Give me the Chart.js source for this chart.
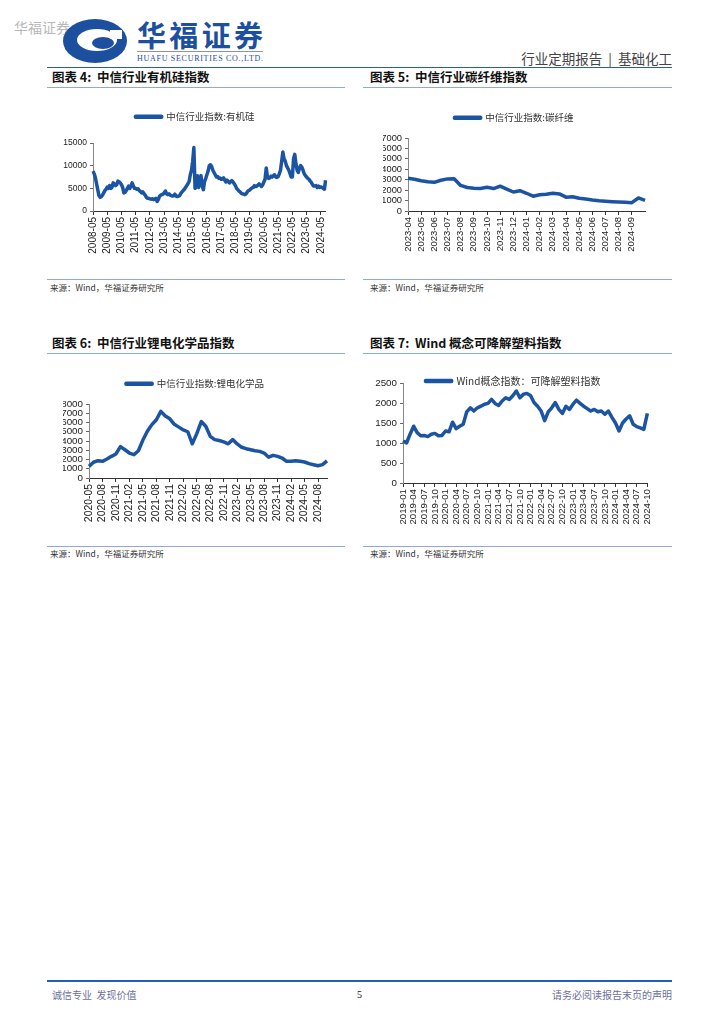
<!DOCTYPE html>
<html lang="zh-CN">
<head>
<meta charset="utf-8">
<script src="https://cdn.jsdelivr.net/npm/chart.js@4.4.0/dist/chart.umd.min.js"></script>
<style>
  body { margin: 0; background: #fff; }
  #page { position: relative; width: 724px; height: 1024px; overflow: hidden; font-family: "Noto Sans CJK SC", sans-serif; }
  .abs { position: absolute; white-space: pre; }
  .rule { position: absolute; height: 0; border-top: 1.5px solid #8eaadb; }
  .title { font-size: 12.5px; line-height: 16px; font-weight: 700; color: #111; }
  .src { font-size: 8.5px; line-height: 12px; color: #333; }
  canvas { position: absolute; }
</style>
</head>
<body>
<div id="page">
  <div class="abs" style="left:14px;top:18px;font-size:14px;line-height:18px;color:#b8b8b8;">华福证券</div>
  <svg class="abs" style="left:60px;top:16px;" width="215" height="52" viewBox="0 0 215 52">
    <ellipse cx="35" cy="25" rx="32" ry="22" fill="#1d4f9f"/>
    <ellipse cx="37" cy="24" rx="20" ry="11" fill="#fff"/>
    <ellipse cx="43" cy="27" rx="11" ry="6" fill="#1d4f9f"/>
    <rect x="50" y="14" width="12" height="9" fill="#fff"/>
    <text x="77" y="31" font-family="Noto Sans CJK SC" font-weight="700" font-size="29" fill="#1d4f9f" textLength="126">华福证券</text>
    <line x1="77" y1="35.5" x2="203" y2="35.5" stroke="#777" stroke-width="0.8"/>
    <text x="77" y="45" font-family="Liberation Serif" font-size="8" fill="#1d4f9f" textLength="126">HUAFU SECURITIES CO.,LTD.</text>
  </svg>
  <div class="abs" style="right:52px;top:49px;font-size:13.5px;line-height:18px;color:#444;">行业定期报告  |  基础化工</div>
  <div class="rule" style="left:47px;top:67px;width:625px;border-top:1.5px solid #2a5caa;"></div>

  <div class="abs title" style="left:52px;top:69px;">图表 4:  中信行业有机硅指数</div>
  <div class="rule" style="left:47px;top:87px;width:298px;"></div>
  <div class="abs title" style="left:370px;top:69px;">图表 5:  中信行业碳纤维指数</div>
  <div class="rule" style="left:363px;top:87px;width:309px;"></div>

  <canvas id="c4" width="280" height="161" style="left:55px;top:100px;"></canvas>
  <canvas id="c5" width="285" height="161" style="left:368px;top:100px;"></canvas>

  <div class="rule" style="left:47px;top:279px;width:298px;"></div>
  <div class="abs src" style="left:50px;top:281px;">来源：Wind，华福证券研究所</div>
  <div class="rule" style="left:363px;top:279px;width:309px;"></div>
  <div class="abs src" style="left:370px;top:281px;">来源：Wind，华福证券研究所</div>

  <div class="abs title" style="left:52px;top:335px;">图表 6:  中信行业锂电化学品指数</div>
  <div class="rule" style="left:47px;top:353px;width:298px;"></div>
  <div class="abs title" style="left:370px;top:335px;">图表 7:  Wind 概念可降解塑料指数</div>
  <div class="rule" style="left:363px;top:353px;width:309px;"></div>

  <canvas id="c6" width="280" height="166" style="left:55px;top:362px;"></canvas>
  <canvas id="c7" width="296" height="171" style="left:365px;top:362px;"></canvas>

  <div class="rule" style="left:47px;top:546px;width:298px;"></div>
  <div class="abs src" style="left:50px;top:547px;">来源：Wind，华福证券研究所</div>
  <div class="rule" style="left:363px;top:546px;width:309px;"></div>
  <div class="abs src" style="left:370px;top:547px;">来源：Wind，华福证券研究所</div>

  <div class="rule" style="left:47px;top:980px;width:625px;border-top:2px solid #1f5fbf;"></div>
  <div class="abs" style="left:52px;top:988px;font-size:10px;line-height:14px;color:#6b7099;">诚信专业  发现价值</div>
  <div class="abs" style="left:357px;top:988px;font-size:10px;line-height:14px;color:#111;font-family:'Liberation Serif';">5</div>
  <div class="abs" style="right:52px;top:988px;font-size:10px;line-height:14px;color:#6b7099;">请务必阅读报告末页的声明</div>
</div>

<script>
// 图表4 中信行业有机硅指数（月度，2008-05 ~ 2024-09）
const siliconeStart = '2008-05';
const siliconeValues = [
  8800, 8200, 7400, 6000, 4700, 3400, 3000, 3200,
  3500, 4000, 4500, 4800, 5300, 5000, 5600, 5000, 5200, 6200, 6000, 5600,
  5800, 6600, 6400, 6200, 5800, 5200, 4000, 4100, 4500, 5000, 5500, 5000,
  5500, 6200, 5500, 5000, 5000, 4800, 4900, 4500, 4300, 4000, 4200, 3800,
  3500, 3000, 2800, 2800, 2700, 2600, 2700, 2500, 2600, 2800, 2100, 2500,
  3200, 3500, 3600, 3700, 4000, 4400, 3800, 3600, 3800, 3500, 3400, 3300,
  3400, 3700, 3300, 3200, 3300, 3400, 3900, 4200, 4500, 4800, 5200, 5600,
  6000, 6500, 8000, 9000, 11000, 14000, 5000, 5500, 7800, 5200, 6500, 7800,
  5500, 4700, 6500, 7200, 8000, 8800, 10000, 10200, 9800, 9000, 8500, 8000,
  7500, 7600, 7200, 7300, 7000, 7100, 7300, 6800, 6400, 6800, 6500, 6200,
  6500, 6700, 6400, 6000, 5600, 5000, 4700, 4400, 4200, 3900, 3800, 3700,
  3600, 3800, 4200, 4500, 4600, 4900, 5100, 5200, 5600, 5400, 5500, 5700,
  6000, 5700, 5400, 5800, 6400, 7000, 9500, 7500, 7200, 7300, 7700, 7500,
  7800, 8000, 7500, 7400, 7600, 8200, 9000, 11000, 13000, 11500, 11000, 10000,
  9500, 9000, 8300, 7500, 7500, 11500, 12500, 10500, 9000, 8500, 9500, 10000,
  9700, 9000, 8200, 7800, 7500, 7200, 7000, 6600, 6300, 5800, 5500, 5500,
  5600, 5200, 5500, 5200, 5300, 5200, 5000, 4800, 6800
];

// 图表5 中信行业碳纤维指数（半月，2023-04 ~ 2024-10）
const carbonDates = [
  '2023-04-01', '2023-04-16', '2023-05-01', '2023-05-16', '2023-06-01', '2023-06-16',
  '2023-07-01', '2023-07-16', '2023-08-01', '2023-08-16', '2023-09-01', '2023-09-16',
  '2023-10-01', '2023-10-16', '2023-11-01', '2023-11-16', '2023-12-01', '2023-12-16',
  '2024-01-01', '2024-01-16', '2024-02-01', '2024-02-16', '2024-03-01', '2024-03-16',
  '2024-04-01', '2024-04-16', '2024-05-01', '2024-05-16', '2024-06-01', '2024-06-16',
  '2024-07-01', '2024-07-16', '2024-08-01', '2024-08-16', '2024-09-01', '2024-09-16',
  '2024-10-01'
];
const carbonValues = [
  3150, 3050, 2900, 2800, 2750, 2950, 3080, 3100, 2450, 2250, 2180, 2150,
  2270, 2150, 2380, 2100, 1820, 1950, 1700, 1420, 1550, 1600, 1700, 1640,
  1330, 1360, 1220, 1160, 1060, 980, 930, 890, 860, 830, 800, 1250, 1020
];

// 图表6 中信行业锂电化学品指数（月度，2020-05 ~ 2024-10）
const lithiumStart = '2020-05';
const lithiumValues = [
  1260, 1700, 1870, 1800, 2050, 2340, 2600, 3400,
  3050, 2700, 2520, 2950, 4100, 5050, 5770, 6300, 7200, 6700, 6400, 5800,
  5500, 5200, 5000, 3700, 4800, 6100, 5600, 4500, 4150, 4050, 3900, 3700,
  4150, 3680, 3320, 3170, 3060, 2950, 2880, 2700, 2250, 2450, 2340, 2160,
  1800, 1800, 1870, 1800, 1730, 1550, 1440, 1330, 1450, 1850
];

// 图表7 Wind概念可降解塑料指数（月度，2019-01 ~ 2024-10）
const plasticStart = '2019-01';
const plasticValues = [
  1050, 1000, 1220, 1420, 1260, 1180, 1190, 1160, 1220, 1240, 1180, 1190,
  1300, 1280, 1520, 1360, 1420, 1470, 1780, 1880, 1800, 1880, 1920, 1970,
  1990, 2090, 1990, 1940, 2050, 2130, 2090, 2180, 2300, 2130, 2220, 2240,
  2190, 2010, 1920, 1800, 1560, 1780, 1880, 2010, 1840, 1740, 1920, 1840,
  1970, 2070, 1990, 1920, 1860, 1800, 1840, 1780, 1800, 1720, 1800, 1640,
  1500, 1300, 1500, 1600, 1680, 1470, 1410, 1380, 1340, 1740
];

const LINE = '#1c54a4';
const CJK = '"Noto Sans CJK SC", sans-serif';
const LAT = '"Liberation Sans", Arial, sans-serif';

function monthLabels(start, count) {
  let [y, m] = start.split('-').map(Number);
  const out = [];
  for (let i = 0; i < count; i++) {
    out.push(y + '-' + String(m).padStart(2, '0'));
    m++;
    if (m > 12) { m = 1; y++; }
  }
  return out;
}

// 调整图例高度（决定绘图区顶部）以及图例自身的上下偏移
const legendGap = (extra, shift) => ({
  id: 'legendGap',
  beforeInit(chart) {
    const fit = chart.legend.fit;
    chart.legend.fit = function () {
      fit.call(this);
      this.height += extra;
    };
  },
  afterLayout(chart) {
    chart.legend.top += shift;
    chart.legend.bottom += shift;
  }
});

function buildChart(id, labels, values, name, o) {
  const last = labels.length - 1;
  return new Chart(document.getElementById(id), {
    type: 'line',
    data: {
      labels: labels,
      datasets: [{
        label: name,
        data: values,
        borderColor: LINE,
        backgroundColor: LINE,
        borderWidth: 3.5,
        pointRadius: 0,
        tension: 0,
        borderJoinStyle: 'round'
      }]
    },
    options: {
      responsive: false,
      animation: false,
      events: [],
      layout: { padding: { left: o.padL, right: 8, top: o.padT, bottom: 0 } },
      plugins: {
        legend: {
          position: 'top',
          align: 'center',
          labels: {
            boxWidth: 26,
            boxHeight: 1,
            padding: 8,
            color: '#333',
            font: { family: CJK, size: o.legendSize }
          }
        },
        tooltip: { enabled: false }
      },
      scales: {
        x: {
          offset: false,
          grid: { drawOnChartArea: false, drawTicks: true, tickLength: 4, color: '#333' },
          border: { display: true, color: '#333', width: 1 },
          ticks: {
            autoSkip: false,
            minRotation: 90,
            maxRotation: 90,
            padding: 2,
            color: '#222',
            font: { family: LAT, size: o.xSize },
            callback: function (v, i) {
              if (o.hideLast && i === last) return null;
              return i % o.every === 0 ? this.getLabelForValue(v).slice(0, 7) : null;
            }
          },
          afterFit: s => { s.height = o.xHeight; }
        },
        y: {
          min: 0,
          max: o.yMax,
          grid: { drawOnChartArea: false, tickLength: 3, color: '#666' },
          border: { display: true, color: '#888', width: 1 },
          ticks: {
            stepSize: o.yStep,
            autoSkip: false,
            padding: 3,
            color: '#222',
            font: { family: LAT, size: o.ySize },
            callback: v => String(v)
          },
          afterFit: s => { s.width = o.yWidth; }
        }
      }
    },
    plugins: [legendGap(o.legendExtra, o.legendShift || 0)]
  });
}

buildChart('c4', monthLabels(siliconeStart, siliconeValues.length), siliconeValues, '中信行业指数:有机硅', {
  padL: 8, padT: 4, yWidth: 30, xHeight: 50, legendExtra: 11.5, legendSize: 9.5,
  yMax: 15000, yStep: 5000, every: 12, xSize: 10, ySize: 8.5
});
buildChart('c5', carbonDates, carbonValues, '中信行业指数:碳纤维', {
  padL: 15, padT: 5, yWidth: 25, xHeight: 50, legendExtra: 5.5, legendSize: 9.5,
  yMax: 7000, yStep: 1000, every: 2, xSize: 9.5, ySize: 9.3, hideLast: true
});
buildChart('c6', monthLabels(lithiumStart, lithiumValues.length), lithiumValues, '中信行业指数:锂电化学品', {
  padL: 8, padT: 9, yWidth: 26, xHeight: 50, legendExtra: 5.5, legendSize: 9.5,
  yMax: 8000, yStep: 1000, every: 3, xSize: 10.4, ySize: 9.8
});
buildChart('c7', monthLabels(plasticStart, plasticValues.length), plasticValues, 'Wind概念指数：可降解塑料指数', {
  padL: 8, padT: 0, yWidth: 30, xHeight: 50, legendExtra: -7, legendShift: 6, legendSize: 10,
  yMax: 2500, yStep: 500, every: 3, xSize: 9.7, ySize: 9.8
});
</script>
</body>
</html>
